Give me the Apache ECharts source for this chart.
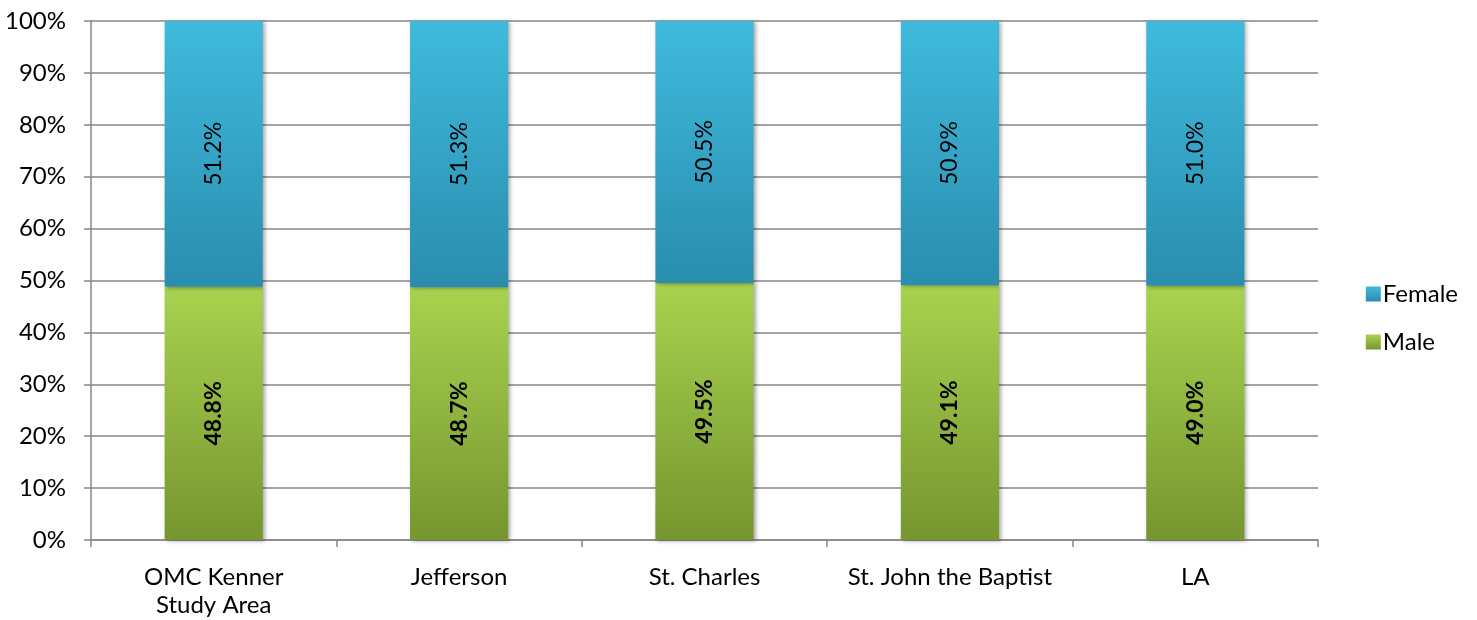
<!DOCTYPE html>
<html><head><meta charset="utf-8">
<script src="https://cdn.jsdelivr.net/npm/echarts@6/dist/echarts.min.js"></script>
<style>html,body{margin:0;padding:0;background:#fff}#c{width:1477px;height:620px}</style>
</head><body><div id="c"></div>
<script>
const categories = ['OMC Kenner\nStudy Area', 'Jefferson', 'St. Charles', 'St. John the Baptist', 'LA'];
const male = [48.8, 48.7, 49.5, 49.1, 49.0];
const female = [51.2, 51.3, 50.5, 50.9, 51.0];
const yTicks = [0, 10, 20, 30, 40, 50, 60, 70, 80, 90, 100];

const FONT = 'Lato, "Open Sans", sans-serif';
const grad = (a, b) => new echarts.graphic.LinearGradient(0, 0, 0, 1, [{offset: 0, color: a}, {offset: 1, color: b}]);
const chart = echarts.init(document.getElementById('c'), null, {renderer: 'canvas'});
chart.setOption({
  animation: false,
  textStyle: {fontFamily: FONT},
  grid: {left: 91, right: 159, top: 21, bottom: 80},
  legend: {
    orient: 'vertical', right: 14, top: 277, itemGap: 24, itemWidth: 15, itemHeight: 15,
    data: ['Female', 'Male'], icon: 'rect',
    textStyle: {fontSize: 24, color: '#000', fontFamily: FONT, padding: [0, 0, 0, -3]}
  },
  xAxis: {
    type: 'category', data: categories,
    axisLine: {lineStyle: {color: '#868686', width: 1.5}},
    axisTick: {show: true, interval: 0, length: 7, lineStyle: {color: '#868686', width: 1.5}},
    axisLabel: {interval: 0, fontSize: 24, color: '#000', margin: 23, lineHeight: 28, fontFamily: FONT}
  },
  yAxis: {
    type: 'value', min: 0, max: 100, interval: 10,
    axisLine: {show: true, lineStyle: {color: '#868686', width: 1.5}},
    axisTick: {show: true, length: 7, lineStyle: {color: '#868686', width: 1.5}},
    splitLine: {lineStyle: {color: '#868686', width: 1.5}},
    axisLabel: {fontSize: 24, color: '#000', margin: 25, fontFamily: FONT,
      formatter: v => yTicks.includes(v) ? v + '%' : ''}
  },
  series: [
    {
      name: 'Male', type: 'bar', stack: 's', data: male, barWidth: '40%',
      itemStyle: {color: grad('#A8D24F', '#76962F'), shadowColor: 'rgba(0,0,0,0.35)', shadowBlur: 4, shadowOffsetX: 2, shadowOffsetY: 1},
      label: {show: true, position: 'inside', rotate: 90, fontSize: 23, fontWeight: 'bold', color: '#000', fontFamily: FONT,
        formatter: p => p.value.toFixed(1) + '%'}
    },
    {
      name: 'Female', type: 'bar', stack: 's', data: female, barWidth: '40%',
      itemStyle: {color: grad('#3FBADD', '#2A8DAE'), shadowColor: 'rgba(0,0,0,0.35)', shadowBlur: 4, shadowOffsetX: 2, shadowOffsetY: 1},
      label: {show: true, position: 'inside', rotate: 90, fontSize: 23, color: '#000', fontFamily: FONT,
        formatter: p => p.value.toFixed(1) + '%'}
    }
  ]
});
</script></body></html>
